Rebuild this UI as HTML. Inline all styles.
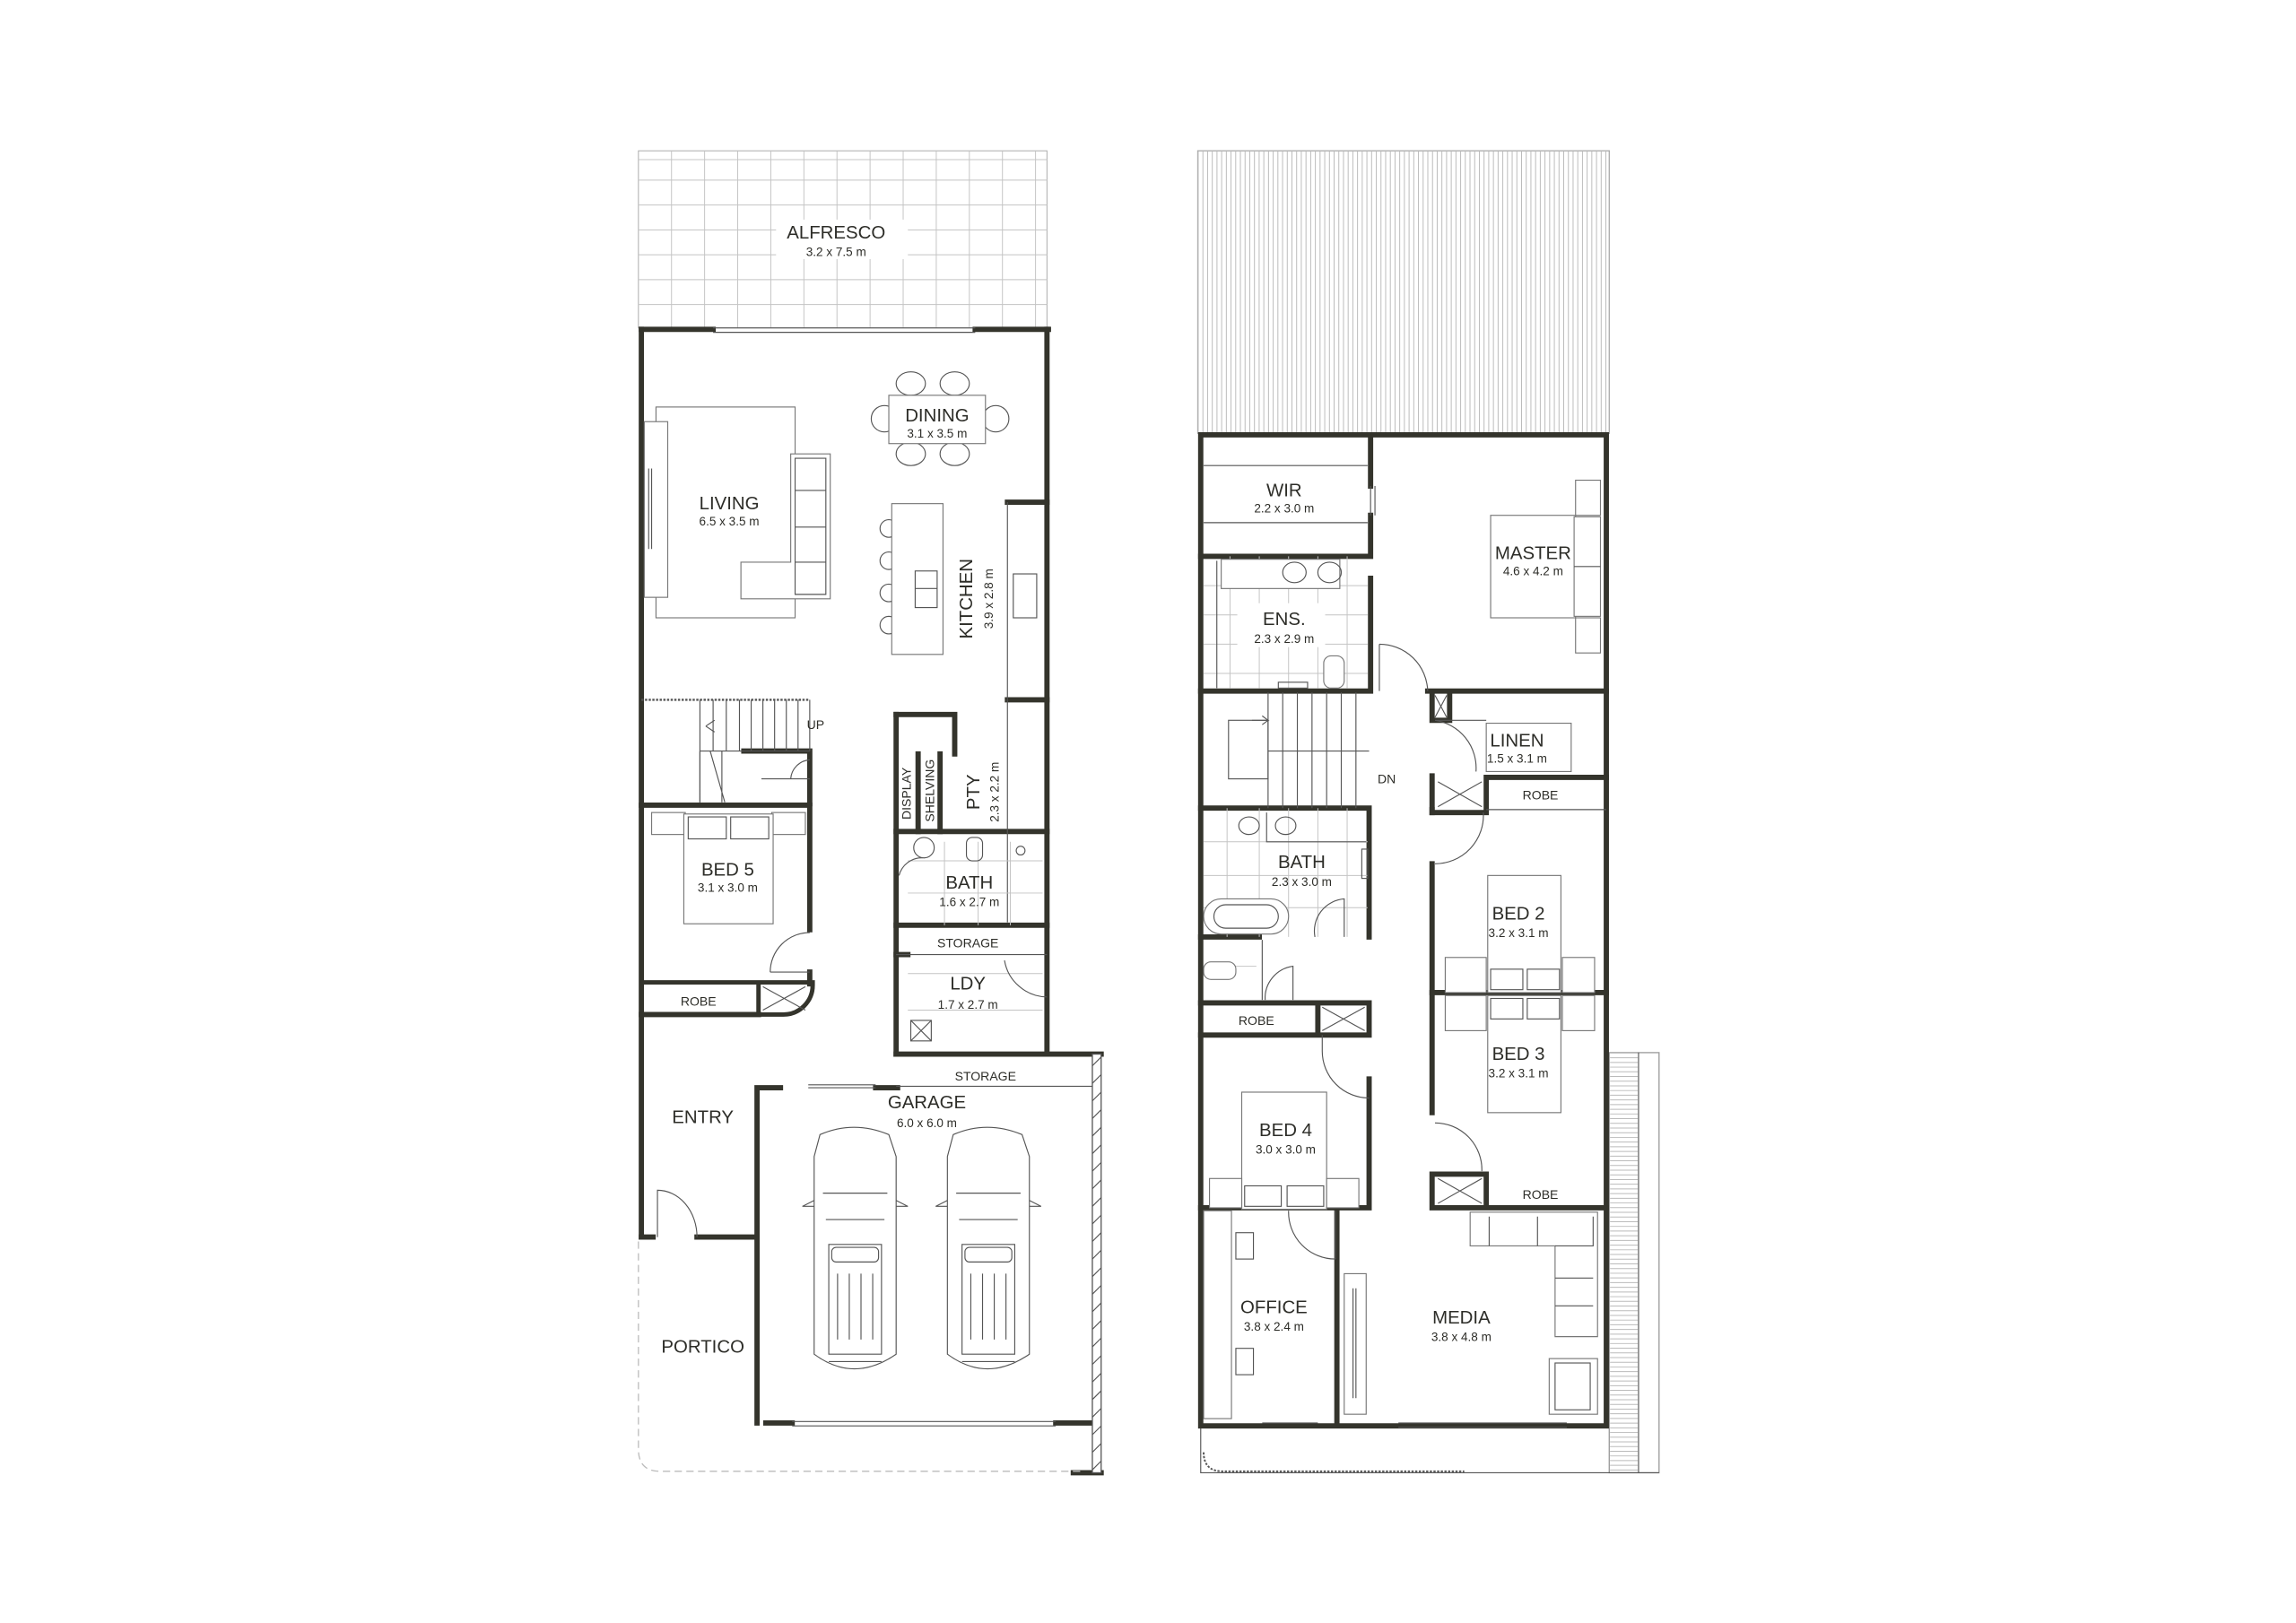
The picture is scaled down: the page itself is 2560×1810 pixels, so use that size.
<!DOCTYPE html>
<html><head><meta charset="utf-8"><style>
html,body{margin:0;padding:0;background:#fff;}
svg{display:block;}
text{font-family:"Liberation Sans",sans-serif;fill:#2d2d28;text-anchor:middle;}
.l{font-size:12.5px;}
.d{font-size:8.3px;}
.s{font-size:8.6px;}
.w{stroke:#34342c;stroke-width:3.6;fill:none;stroke-linecap:square;}
.t{stroke:#555;stroke-width:0.7;fill:none;}
.g{stroke:#c4c4c4;stroke-width:0.6;fill:none;}
.f{stroke:#777;stroke-width:0.7;fill:#fff;}
</style></head><body>
<svg width="2560" height="1810" viewBox="0 0 1568 1108.6" xmlns="http://www.w3.org/2000/svg">
<rect width="1568" height="1109" fill="#fff"/>

<!-- ================= LEFT PLAN ================= -->
<!-- Alfresco -->
<g class="g">
<rect x="436" y="103" width="279" height="121" stroke="#aaa"/>
<path d="M458.6 103V224M481.2 103V224M503.8 103V224M526.4 103V224M549 103V224M571.6 103V224M594.2 103V224M616.8 103V224M639.4 103V224M662 103V224M684.6 103V224M707.2 103V224"/>
<path d="M436 109H715M436 123H715M436 140H715M436 157H715M436 174H715M436 191H715M436 208H715"/>
</g>
<rect x="530" y="150" width="90" height="27" fill="#fff"/>
<text class="l" x="571" y="163">ALFRESCO</text>
<text class="d" x="571" y="175">3.2 x 7.5 m</text>

<!-- outer walls -->
<g class="w">
<path d="M438 225H487M666 225H716"/>
<path d="M438 225V845"/>
<path d="M715 225V720"/>
<path d="M438 845H446M476 845H517"/>
<path d="M517 972V743H533M598 743H613"/>
<path d="M612 720V488"/>
<path d="M612 720H752"/>
<path d="M523 972H541M721 972H746"/>
<path d="M733 1006H752"/>
<path d="M688 478H715M688 343H715"/>
<path d="M612 568H715M612 632H715M612 652H620"/>
<path d="M612 488H652V515"/>
<path d="M627 515V568M642 515V568"/>
<path d="M438 550H553V635M553 664V672"/>
<path d="M508 513H553V549"/>
<path d="M438 693H518"/>
</g>
<path class="t" d="M487 224H666M487 227H666"/>
<path class="t" d="M541 971H721M541 974H721"/>
<path class="t" d="M552 743H598M552 741H598"/>
<path class="t" d="M612 742H746"/>
<path class="t" d="M688 343V630"/>
<!-- garage right hatched -->
<rect x="746" y="720" width="6" height="286" fill="#fff" stroke="#555" stroke-width="0.8"/>
<path class="t" d="M746 728l6-6M746 740l6-6M746 752l6-6M746 764l6-6M746 776l6-6M746 788l6-6M746 800l6-6M746 812l6-6M746 824l6-6M746 836l6-6M746 848l6-6M746 860l6-6M746 872l6-6M746 884l6-6M746 896l6-6M746 908l6-6M746 920l6-6M746 932l6-6M746 944l6-6M746 956l6-6M746 968l6-6M746 980l6-6M746 992l6-6M746 1004l6-6"/>
<!-- portico dashed -->
<path d="M436 848V990Q436 1005 451 1005H740" stroke="#bbb" stroke-width="0.8" fill="none" stroke-dasharray="5,3"/>

<!-- Living -->
<rect class="f" x="448" y="278" width="95" height="144"/>
<rect class="f" x="440" y="288" width="16" height="120"/>
<path class="t" d="M443 320V375M445 320V375"/>
<path class="f" d="M540 310H567V409H506V384H540Z"/>
<path class="t" d="M543 313H564V406H543ZM543 335H564M543 360H564M543 384H564"/>
<text class="l" x="498" y="348">LIVING</text>
<text class="d" x="498" y="359">6.5 x 3.5 m</text>
<!-- Dining -->
<g class="t">
<ellipse cx="622" cy="262" rx="10" ry="8"/><ellipse cx="652" cy="262" rx="10" ry="8"/>
<ellipse cx="622" cy="310" rx="10" ry="8"/><ellipse cx="652" cy="310" rx="10" ry="8"/>
<ellipse cx="604" cy="286" rx="9" ry="9"/><ellipse cx="680" cy="286" rx="9" ry="9"/>
</g>
<rect class="f" x="607" y="270" width="66" height="33"/>
<text class="l" x="640" y="288">DINING</text>
<text class="d" x="640" y="299">3.1 x 3.5 m</text>
<!-- Kitchen -->
<g class="t"><circle cx="607" cy="361" r="6"/><circle cx="607" cy="383" r="6"/><circle cx="607" cy="405" r="6"/><circle cx="607" cy="427" r="6"/></g>
<rect class="f" x="609" y="344" width="35" height="103"/>
<rect class="t" x="625" y="390" width="15" height="25"/>
<path class="t" d="M625 402H640"/>
<rect class="t" x="692" y="392" width="16" height="30"/>
<text class="l" transform="translate(664,409) rotate(-90)">KITCHEN</text>
<text class="d" transform="translate(678,409) rotate(-90)">3.9 x 2.8 m</text>
<text class="l" transform="translate(669,541) rotate(-90)">PTY</text>
<text class="d" transform="translate(682,541) rotate(-90)">2.3 x 2.2 m</text>
<text class="s" transform="translate(622,542) rotate(-90)">DISPLAY</text>
<text class="s" transform="translate(638,540) rotate(-90)">SHELVING</text>
<!-- stairs -->
<path d="M438 478H553" stroke="#555" stroke-width="1.4" stroke-dasharray="1.5,1"/>
<path class="t" d="M478 478V548M478 513H553M553 478V513M487 478V513M496 478V513M505 478V513M513 478V513M521 478V513M529 478V513M537 478V513M545 478V513"/>
<path class="t" d="M482 496l6-4M482 496l6 4M478 513V548M493 513V548M485 513l10 35"/>
<text class="s" x="557" y="498">UP</text>
<path class="t" d="M540 532A14 14 0 0 1 553 519M520 532H553"/>
<!-- Bed 5 -->
<rect class="f" x="445" y="555" width="23" height="15"/><rect class="f" x="527" y="555" width="23" height="15"/>
<rect class="f" x="467" y="556" width="61" height="75"/>
<rect class="t" x="470" y="558" width="26" height="15"/><rect class="t" x="499" y="558" width="26" height="15"/>
<text class="l" x="497" y="598">BED 5</text>
<text class="d" x="497" y="609">3.1 x 3.0 m</text>
<path class="t" d="M526 664A27 27 0 0 1 553 637M526 664H553"/>
<!-- robe -->
<path d="M438 671H518M518 671V693M518 693H535A20 20 0 0 0 555 673V671H518" stroke="#34342c" stroke-width="3" fill="none"/>
<path class="t" d="M521 674L550 690M550 674L521 690"/>
<text class="s" x="477" y="687">ROBE</text>
<!-- entry -->
<text class="l" x="480" y="767">ENTRY</text>
<path class="t" d="M449 845V813A27 32 0 0 1 476 845"/>
<text class="l" x="480" y="924">PORTICO</text>
<!-- bath -->
<g class="g"><path d="M620 588H712M620 610H712M645 575V632M668 575V632M690 575V632"/></g>
<circle class="t" cx="631" cy="579" r="7"/>
<rect class="t" x="660" y="572" width="11" height="16" rx="4"/>
<circle class="t" cx="697" cy="581" r="3"/>
<path class="t" d="M614 598A16 16 0 0 1 630 586"/>
<text class="l" x="662" y="607">BATH</text>
<text class="d" x="662" y="619">1.6 x 2.7 m</text>
<text class="s" x="661" y="647">STORAGE</text>
<path class="t" d="M612 652H715"/>
<g class="g"><path d="M620 665H712M620 690H712"/></g>
<text class="l" x="661" y="676">LDY</text>
<text class="d" x="661" y="689">1.7 x 2.7 m</text>
<path class="t" d="M686 656A30 30 0 0 0 715 681"/>
<rect class="t" x="622" y="697" width="14" height="14"/><path class="t" d="M622 697l14 14M636 697l-14 14"/>
<text class="s" x="673" y="738">STORAGE</text>
<!-- garage -->
<text class="l" x="633" y="757">GARAGE</text>
<text class="d" x="633" y="770">6.0 x 6.0 m</text>
<g class="t">
<path d="M560 775Q583 765 607 775L612 790L612 925Q583 945 556 925L556 790Z"/>
<path d="M562 815L606 815M564 833H604M566 930H602M566 850H602V925H566Z"/>
<rect x="568" y="852" width="32" height="10" rx="3"/>
<path d="M572 870V915M580 870V915M588 870V915M596 870V915"/>
<path d="M556 820l-8 4h8M612 820l8 4h-8"/>
<path d="M651 775Q674 765 698 775L703 790L703 925Q674 945 647 925L647 790Z"/>
<path d="M653 815L697 815M655 833H695M657 930H693M657 850H693V925H657Z"/>
<rect x="659" y="852" width="32" height="10" rx="3"/>
<path d="M663 870V915M671 870V915M679 870V915M687 870V915"/>
<path d="M647 820l-8 4h8M703 820l8 4h-8"/>
</g>

<!-- ================= RIGHT PLAN ================= -->
<rect x="818" y="103" width="281" height="193" fill="#fff" stroke="#aaa" stroke-width="0.8"/>
<path d="M818 200H1099" stroke="#bbb" stroke-width="193" stroke-dasharray="0.6,2.6" fill="none"/>
<!-- balcony strip -->
<rect x="1099" y="719" width="34" height="287" fill="#fff" stroke="#999" stroke-width="0.8"/>
<path d="M1109 719V1006" stroke="#bbb" stroke-width="19" stroke-dasharray="0.6,2.6" fill="none"/>
<path class="t" d="M1119 719V1006"/>
<path class="t" d="M820 974V1006H1133"/>
<path d="M822 992Q822 1005 835 1005H1000" stroke="#555" stroke-width="1.2" fill="none" stroke-dasharray="1.5,1"/>

<g class="w">
<path d="M820 297H1097V974H820V297"/>
<path d="M936 297V332M936 352V380M820 380H936"/>
<path d="M820 472H936M936 395V470"/>
<path d="M975 472H1097"/>
<path d="M978 473V492H990V473"/>
<path d="M978 530V555H1015V531H1097"/>
<path d="M820 552H935V640M935 552V568"/>
<path d="M820 640H860"/>
<path d="M820 685H935V707H900V685M820 707H935"/>
<path d="M935 737V825M820 825H935M913 825V972"/>
<path d="M978 553V555M978 590V760"/>
<path d="M978 678H1097"/>
<path d="M978 802H1015V825H978ZM1015 825H1097"/>
</g>
<path class="t" d="M1015 553H1097M936 332V352M939 332V352"/>
<!-- WIR -->
<path class="t" d="M822 318H934M822 357H934"/>
<text class="l" x="877" y="339">WIR</text>
<text class="d" x="877" y="350">2.2 x 3.0 m</text>
<!-- ENS -->
<g class="g"><path d="M840 380V470M860 380V470M880 380V470M900 380V470M920 380V470M822 400H934M822 420H934M822 440H934M822 460H934"/></g>
<rect class="f" x="834" y="382" width="81" height="20"/>
<ellipse class="t" cx="884" cy="391" rx="8" ry="7"/><ellipse class="t" cx="908" cy="391" rx="8" ry="7"/>
<path class="t" d="M831 383V470"/>
<rect class="f" x="904" y="448" width="14" height="22" rx="5"/>
<rect class="t" x="873" y="466" width="20" height="4"/>
<rect x="845" y="412" width="60" height="30" fill="#fff"/>
<text class="l" x="877" y="427">ENS.</text>
<text class="d" x="877" y="439">2.3 x 2.9 m</text>
<path class="t" d="M942 440A33 33 0 0 1 975 472M942 440V472"/>
<!-- Master -->
<rect class="f" x="1076" y="328" width="17" height="24"/><rect class="f" x="1076" y="422" width="17" height="24"/>
<rect class="f" x="1018" y="352" width="58" height="70"/>
<rect class="f" x="1075" y="353" width="18" height="68"/>
<path class="t" d="M1075 387H1093"/>
<text class="l" x="1047" y="382">MASTER</text>
<text class="d" x="1047" y="393">4.6 x 4.2 m</text>
<!-- stairs -->
<path class="t" d="M866 473V552M866 513H935M876 473V552M886 473V552M896 473V552M906 473V552M916 473V552M926 473V552"/>
<rect class="t" x="839" y="492" width="27" height="40"/>
<path class="t" d="M855 492H866l-4-3M866 492l-4 3"/>
<text class="s" x="947" y="535">DN</text>
<!-- Linen -->
<path class="t" d="M980 475L988 490M988 475L980 490"/>
<rect class="f" x="1015" y="494" width="58" height="33"/>
<path class="t" d="M980 492A33 33 0 0 1 1008 527M980 492H1015"/>
<text class="l" x="1036" y="510">LINEN</text>
<text class="d" x="1036" y="521">1.5 x 3.1 m</text>
<path class="t" d="M982 534L1012 551M1012 534L982 551"/>
<text class="s" x="1052" y="546">ROBE</text>
<!-- Bath -->
<g class="g"><path d="M838 552V640M860 552V640M880 552V640M900 552V640M920 552V640M822 575H934M822 598H934M822 620H934M822 660H858"/></g>
<path class="t" d="M865 555V575H933"/>
<ellipse class="t" cx="853" cy="564" rx="7" ry="6"/><ellipse class="t" cx="878" cy="564" rx="7" ry="6"/>
<rect class="f" x="822" y="614" width="58" height="24" rx="12"/>
<rect class="t" x="829" y="618" width="44" height="16" rx="8"/>
<path class="t" d="M898 640A22 22 0 0 1 918 614V640"/>
<rect class="t" x="930" y="580" width="4" height="20"/>
<text class="l" x="889" y="593">BATH</text>
<text class="d" x="889" y="605">2.3 x 3.0 m</text>
<rect class="f" x="822" y="657" width="22" height="12" rx="5"/>
<path class="t" d="M864 683A22 22 0 0 1 883 660V683M862 642V683"/>
<text class="s" x="858" y="700">ROBE</text>
<path class="t" d="M903 688L932 704M932 688L903 704"/>
<!-- Bed 4 -->
<path class="t" d="M903 718A32 32 0 0 0 935 750M903 707V718"/>
<rect class="f" x="848" y="746" width="58" height="80"/>
<rect class="f" x="826" y="805" width="22" height="20"/><rect class="f" x="906" y="805" width="22" height="20"/>
<rect class="t" x="850" y="810" width="25" height="14"/><rect class="t" x="879" y="810" width="25" height="14"/>
<text class="l" x="878" y="776">BED 4</text>
<text class="d" x="878" y="788">3.0 x 3.0 m</text>
<!-- Office -->
<rect class="f" x="822" y="827" width="19" height="142"/>
<rect class="t" x="844" y="842" width="12" height="18"/><rect class="t" x="844" y="921" width="12" height="18"/>
<path class="t" d="M880 827A32 32 0 0 0 912 860M912 827V860"/>
<text class="l" x="870" y="897">OFFICE</text>
<text class="d" x="870" y="909">3.8 x 2.4 m</text>
<!-- Media -->
<rect class="f" x="918" y="870" width="15" height="96"/>
<path class="t" d="M924 880V955M926 880V955"/>
<path class="f" d="M1004 828H1091V913H1062V851H1004Z"/>
<path class="t" d="M1017 831V851M1050 831V851M1062 851H1088V831M1062 873H1088M1062 892H1088"/>
<rect class="f" x="1058" y="928" width="33" height="38"/>
<rect class="t" x="1062" y="931" width="24" height="32"/>
<text class="l" x="998" y="904">MEDIA</text>
<text class="d" x="998" y="916">3.8 x 4.8 m</text>
<path class="t" d="M955 972H1070M955 975H1070M862 972H900"/>
<!-- Bed 2 -->
<path class="t" d="M980 590A33 33 0 0 0 1013 555"/>
<rect class="f" x="1016" y="598" width="50" height="80"/>
<rect class="f" x="987" y="654" width="28" height="24"/><rect class="f" x="1067" y="654" width="22" height="24"/>
<rect class="t" x="1018" y="662" width="22" height="14"/><rect class="t" x="1043" y="662" width="22" height="14"/>
<text class="l" x="1037" y="628">BED 2</text>
<text class="d" x="1037" y="640">3.2 x 3.1 m</text>
<!-- Bed 3 -->
<rect class="f" x="1016" y="680" width="50" height="80"/>
<rect class="f" x="987" y="680" width="28" height="24"/><rect class="f" x="1067" y="680" width="22" height="24"/>
<rect class="t" x="1018" y="682" width="22" height="14"/><rect class="t" x="1043" y="682" width="22" height="14"/>
<text class="l" x="1037" y="724">BED 3</text>
<text class="d" x="1037" y="736">3.2 x 3.1 m</text>
<path class="t" d="M980 767A32 32 0 0 1 1012 800"/>
<path class="t" d="M982 805L1012 822M1012 805L982 822"/>
<text class="s" x="1052" y="819">ROBE</text>
</svg>
</body></html>
